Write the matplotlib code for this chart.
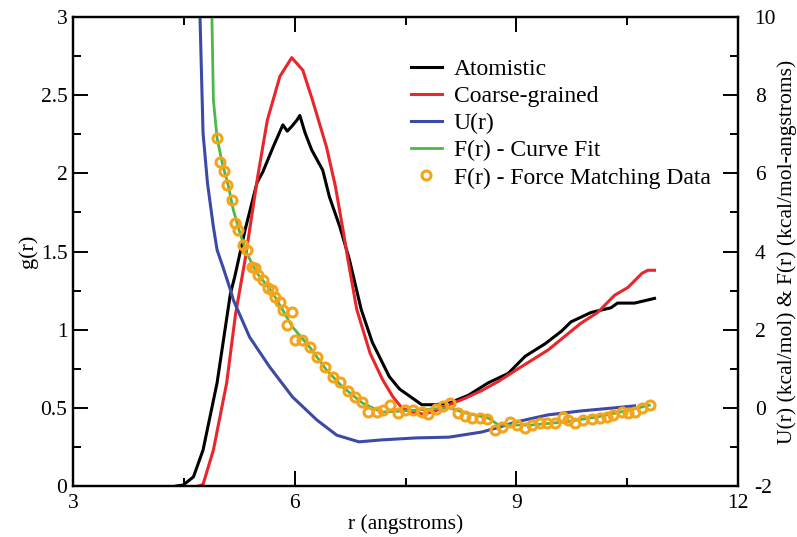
import matplotlib
matplotlib.use("Agg")
import matplotlib.pyplot as plt
from matplotlib.ticker import MultipleLocator, FormatStrFormatter

plt.rcParams['font.family'] = ['Liberation Serif', 'DejaVu Serif']
plt.rcParams['axes.unicode_minus'] = False

# g(r) curves (left axis)
atom_r = [4.40, 4.49, 4.63, 4.76, 4.95, 5.13, 5.19, 5.33, 5.49, 5.57, 5.71, 5.84, 5.90, 5.96,
          6.03, 6.07, 6.14, 6.23, 6.38, 6.47, 6.61, 6.74, 6.90, 7.05, 7.28, 7.42, 7.60, 7.72,
          7.91, 8.09, 8.35, 8.62, 8.89, 9.12, 9.39, 9.61, 9.74, 10.01, 10.28, 10.37, 10.60, 10.87]
atom_g = [0.0, 0.006, 0.058, 0.23, 0.66, 1.23, 1.34, 1.64, 1.94, 2.01, 2.17, 2.31, 2.27, 2.30,
          2.34, 2.37, 2.26, 2.15, 2.02, 1.85, 1.66, 1.45, 1.13, 0.92, 0.70, 0.62, 0.56, 0.52,
          0.52, 0.53, 0.58, 0.66, 0.72, 0.83, 0.91, 0.99, 1.05, 1.11, 1.14, 1.17, 1.17, 1.20]

cg_r = [4.70, 4.76, 4.90, 5.08, 5.20, 5.33, 5.50, 5.63, 5.80, 5.96, 6.11, 6.24, 6.43, 6.55,
        6.65, 6.72, 6.84, 7.02, 7.19, 7.33, 7.45, 7.60, 7.75, 7.90, 8.09, 8.30, 8.53, 8.76,
        8.99, 9.43, 9.87, 10.10, 10.33, 10.51, 10.70, 10.78, 10.87]
cg_g = [0.0, 0.01, 0.23, 0.66, 1.10, 1.45, 1.98, 2.34, 2.62, 2.74, 2.66, 2.47, 2.17, 1.92,
        1.65, 1.45, 1.13, 0.85, 0.68, 0.57, 0.50, 0.47, 0.46, 0.48, 0.52, 0.56, 0.61, 0.67,
        0.74, 0.87, 1.04, 1.11, 1.22, 1.27, 1.36, 1.38, 1.38]

# U(r) and F(r) (right axis)
u_r = [4.712, 4.72, 4.76, 4.82, 4.90, 4.95, 5.03, 5.13, 5.17, 5.39, 5.66, 5.97, 6.30, 6.57,
       6.87, 7.18, 7.64, 8.09, 8.53, 8.76, 9.00, 9.43, 9.87, 10.33, 10.60]
u_val = [10.5, 9.92, 7.03, 5.75, 4.63, 4.04, 3.60, 3.02, 2.76, 1.81, 1.05, 0.28, -0.31, -0.70,
         -0.87, -0.82, -0.77, -0.75, -0.62, -0.50, -0.36, -0.18, -0.08, 0.0, 0.05]

fit_r = [4.875, 4.88, 4.90, 4.95, 5.02, 5.10, 5.17, 5.26, 5.35, 5.49, 5.70, 5.97, 6.20, 6.43,
         6.65, 6.92, 7.18, 7.64, 8.09, 8.31, 8.62, 8.76, 9.20, 9.66, 10.10, 10.55, 10.80]
fit_val = [10.5, 10.0, 7.88, 6.90, 6.26, 5.70, 5.06, 4.47, 3.96, 3.45, 2.95, 2.07, 1.56, 0.97,
           0.53, 0.12, -0.11, -0.06, 0.0, -0.13, -0.26, -0.44, -0.44, -0.36, -0.23, -0.05, 0.07]

fm_r = [4.949, 4.989, 5.043, 5.084, 5.152, 5.192, 5.233, 5.300, 5.355, 5.422, 5.463, 5.503,
        5.571, 5.639, 5.693, 5.733, 5.801, 5.842, 5.963, 5.896, 6.004, 6.099, 6.207, 6.302,
        6.410, 6.518, 6.613, 6.721, 6.816, 6.911, 6.992, 7.114, 7.195, 7.290, 7.398, 7.493,
        7.601, 7.723, 7.804, 7.912, 8.007, 8.101, 8.210, 8.304, 8.399, 8.507, 8.602, 8.710,
        8.805, 8.913, 9.008, 9.116, 9.211, 9.319, 9.414, 9.522, 9.631, 9.698, 9.793, 9.901,
        10.023, 10.131, 10.226, 10.307, 10.429, 10.510, 10.605, 10.700, 10.808]
fm_val = [6.90, 6.29, 6.06, 5.70, 5.32, 4.73, 4.55, 4.17, 4.04, 3.60, 3.58, 3.40,
          3.27, 3.07, 3.02, 2.84, 2.71, 2.50, 2.45, 2.12, 1.74, 1.74, 1.56, 1.30,
          1.05, 0.79, 0.66, 0.43, 0.28, 0.15, -0.11, -0.11, -0.06, 0.07, -0.13, -0.06,
          -0.06, -0.11, -0.16, -0.03, 0.05, 0.12, -0.13, -0.21, -0.26, -0.26, -0.29, -0.57,
          -0.49, -0.36, -0.44, -0.52, -0.44, -0.39, -0.39, -0.39, -0.23, -0.31, -0.39, -0.31,
          -0.29, -0.26, -0.23, -0.18, -0.11, -0.13, -0.11, 0.00, 0.07]

labels = ["Atomistic", "Coarse-grained", "U(r)", "F(r) - Curve Fit", "F(r) - Force Matching Data"]

fig = plt.figure(figsize=(7.97, 5.37), dpi=100)
ax = fig.add_axes([73/797, 1-486/537, 665/797, 469/537])
ax2 = ax.twinx()

lw = 2.2
h1, = ax.plot(atom_r, atom_g, color='black', lw=lw, label=labels[0])
h2, = ax.plot(cg_r, cg_g, color='#e8262b', lw=lw, label=labels[1])
h3, = ax2.plot(u_r, u_val, color='#3a4aa6', lw=lw, label=labels[2])
h4, = ax2.plot(fit_r, fit_val, color='#4cb848', lw=2.0, label=labels[3])
h5, = ax2.plot(fm_r, fm_val, linestyle='none', marker='o', markersize=6.5, markerfacecolor='none',
               markeredgecolor='#f5a31a', markeredgewidth=2.2, label=labels[4])

ax.set_xlim(3, 12)
ax.set_ylim(0, 3)
ax2.set_ylim(-2, 10)

ax.xaxis.set_major_locator(MultipleLocator(3))
ax.xaxis.set_minor_locator(MultipleLocator(1.5))
ax.yaxis.set_major_locator(MultipleLocator(0.5))
ax.yaxis.set_minor_locator(MultipleLocator(0.25))
ax.yaxis.set_major_formatter(FormatStrFormatter('%g'))
ax2.yaxis.set_major_locator(MultipleLocator(2))
ax2.yaxis.set_minor_locator(MultipleLocator(1))

tfs = 15.5
ax.tick_params(which='both', direction='in', top=True, right=False, width=1.4, labelsize=tfs)
ax.tick_params(which='major', length=10.5)
ax.tick_params(which='minor', length=5.5)
ax.tick_params(axis='x', pad=6)
ax.tick_params(axis='y', pad=4)
ax2.tick_params(which='both', direction='in', width=1.4, labelsize=tfs)
ax2.tick_params(which='major', length=10.5, pad=12)
ax2.tick_params(which='minor', length=5.5)

for a in (ax, ax2):
    for s in a.spines.values():
        s.set_linewidth(1.6)

ax.set_xlabel("r (angstroms)", fontsize=15.5, labelpad=1)
ax.set_ylabel("g(r)", fontsize=16, labelpad=2)
ax2.set_ylabel("U(r) (kcal/mol) & F(r) (kcal/mol-angstroms)", fontsize=15.5, labelpad=1)

leg = ax2.legend(handles=[h1, h2, h3, h4, h5], loc='upper left', bbox_to_anchor=(0.508, 0.912),
                 frameon=False, fontsize=17, borderpad=0, borderaxespad=0,
                 handlelength=1.3, handletextpad=0.52, labelspacing=0.24, numpoints=1)

fig.savefig("out.png", dpi=100)
